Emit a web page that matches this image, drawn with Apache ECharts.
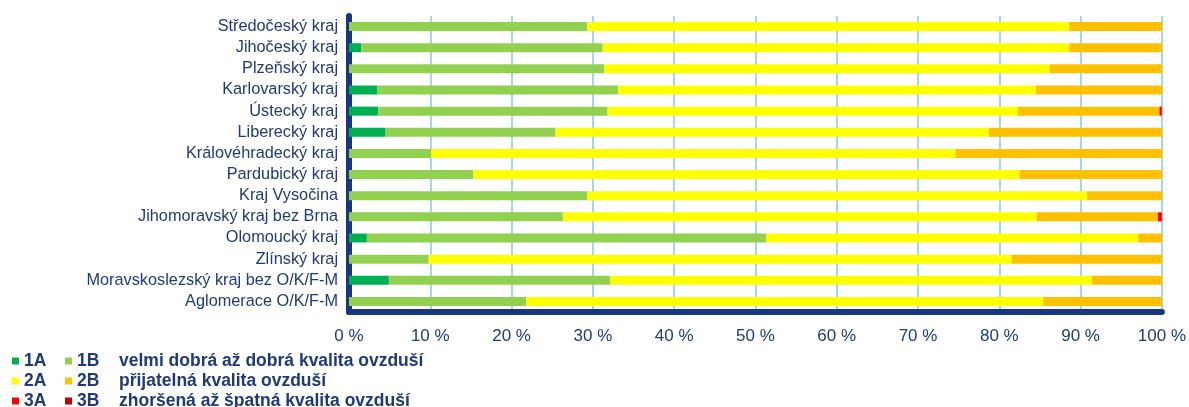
<!DOCTYPE html>
<html><head><meta charset="utf-8">
<script src="https://cdn.jsdelivr.net/npm/echarts@6/dist/echarts.min.js"></script>
<style>html,body{margin:0;padding:0;background:#fff}#c{width:1189px;height:407px}</style>
</head><body><div id="c"></div>
<script>
const categories = ["Středočeský kraj","Jihočeský kraj","Plzeňský kraj","Karlovarský kraj","Ústecký kraj","Liberecký kraj","Královéhradecký kraj","Pardubický kraj","Kraj Vysočina","Jihomoravský kraj bez Brna","Olomoucký kraj","Zlínský kraj","Moravskoslezský kraj bez O/K/F-M","Aglomerace O/K/F-M"];
const s1A = [0, 1.5, 0, 3.5, 3.6, 4.5, 0, 0, 0, 0, 2.2, 0, 4.9, 0];
const s1B = [29.3, 29.7, 31.4, 29.6, 28.2, 20.9, 10.1, 15.3, 29.3, 26.3, 49.1, 9.8, 27.2, 21.8];
const s2A = [59.3, 57.4, 54.8, 51.4, 50.5, 53.3, 64.5, 67.2, 61.5, 58.3, 45.8, 71.7, 59.3, 63.6];
const s2B = [11.4, 11.4, 13.8, 15.5, 17.4, 21.3, 25.4, 17.5, 9.2, 14.9, 2.9, 18.5, 8.6, 14.6];
const s3A = [0, 0, 0, 0, 0.3, 0, 0, 0, 0, 0.5, 0, 0, 0, 0];
const s3B = [0, 0, 0, 0, 0, 0, 0, 0, 0, 0, 0, 0, 0, 0];
const seriesNames = ["1A","1B","2A","2B","3A","3B"];
const seriesColors = ["#00B050","#92D050","#FFFF00","#FFC000","#FF0000","#C00000"];
const legendTexts = ["velmi dobrá až dobrá kvalita ovzduší","přijatelná kvalita ovzduší","zhoršená až špatná kvalita ovzduší"];

const navy = "#1F3A78";
const allData = [s1A, s1B, s2A, s2B, s3A, s3B];
const chart = echarts.init(document.getElementById('c'), null, {renderer:'canvas'});
const legendText = {color: navy, fontSize: 17.5, fontWeight: 'bold', fontFamily: 'Liberation Sans, Arial, sans-serif', lineHeight: 18};
chart.setOption({
  animation: false,
  grid: {left: 349, right: 26, top: 16, bottom: 95, containLabel: false},
  xAxis: {
    type: 'value', min: 0, max: 100, interval: 10,
    axisLine: {show: true, lineStyle: {color: '#17387E', width: 6}},
    axisTick: {show: false},
    splitLine: {show: true, lineStyle: {color: '#84CDDC', width: 1.5}},
    axisLabel: {formatter: '{value} %', color: navy, fontSize: 17, fontFamily: 'Liberation Sans, Arial, sans-serif', margin: 16}
  },
  yAxis: {
    type: 'category', data: categories, inverse: true,
    axisLine: {show: true, lineStyle: {color: '#17387E', width: 6}},
    axisTick: {show: false},
    axisLabel: {color: navy, fontSize: 16.3, fontFamily: 'Liberation Sans, Arial, sans-serif', margin: 11}
  },
  legend: [
    {data: ["1A","2A","3A"], orient: 'vertical', left: 12, top: 352, height: 80, padding: 0, itemWidth: 7, itemHeight: 7, itemGap: 2, icon: 'rect', textStyle: legendText, selectedMode: false},
    {data: ["1B","2B","3B"], orient: 'vertical', left: 65, top: 352, height: 80, padding: 0, itemWidth: 7, itemHeight: 7, itemGap: 2, icon: 'rect', textStyle: legendText, selectedMode: false}
  ],
  graphic: legendTexts.map((t, i) => ({
    type: 'text', left: 119, top: 352 + i * 20,
    style: {text: t, fill: navy, font: 'bold 17.5px "Liberation Sans", Arial, sans-serif'}
  })),
  series: seriesNames.map((n, i) => ({
    name: n, type: 'bar', stack: 'total', data: allData[i], barWidth: 9,
    itemStyle: {color: seriesColors[i]}
  }))
});
</script></body></html>
